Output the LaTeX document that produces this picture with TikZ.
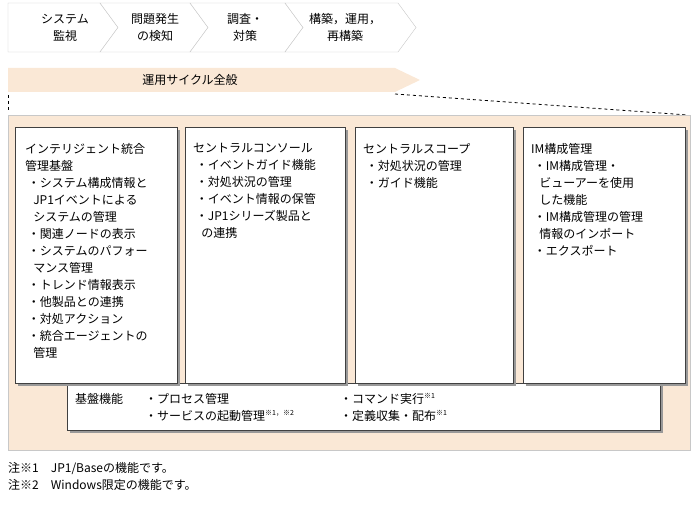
\documentclass[tikz,border=0pt]{standalone}
\usepackage{fontspec}
\setmainfont{Noto Sans CJK JP}
\usetikzlibrary{shapes.misc}
\definecolor{peach}{RGB}{250,232,214}
\definecolor{edge}{RGB}{200,200,200}
\tikzset{
 chev/.style={draw=edge,fill=white},
 txt/.style={font=\fontsize{12}{17}\selectfont,align=left,anchor=north west,inner sep=0pt},
 ctxt/.style={font=\fontsize{12}{17}\selectfont,align=center,inner sep=0pt},
 wbox/.style={draw=black!75,fill=white},
 shadow/.style={fill=black!40}
}
\newcommand{\kome}[1]{\textsuperscript{\fontsize{7}{7}\selectfont ※#1}}
\begin{document}
\begin{tikzpicture}[x=1pt,y=-1pt]
\useasboundingbox (0,0) rectangle (693,505);
% chevrons
\draw[chev] (8,3)--(100,3)--(118,27.5)--(100,52)--(8,52)--cycle;
\draw[chev] (100,3)--(190,3)--(208,27.5)--(190,52)--(100,52)--(118,27.5)--cycle;
\draw[chev] (190,3)--(285,3)--(303,27.5)--(285,52)--(190,52)--(208,27.5)--cycle;
\draw[chev] (285,3)--(398,3)--(416,27.5)--(398,52)--(285,52)--(303,27.5)--cycle;
\node[ctxt] (c1) at (65,27.5) {システム\\監視};
\node[ctxt] (c2) at (155,27.5) {問題発生\\の検知};
\node[ctxt] (c3) at (245,27.5) {調査・\\対策};
\node[ctxt] (c4) at (345,27.5) {構築，運用，\\再構築};
% band
\fill[peach] (8,68)--(395,68)--(420,80)--(395,92)--(8,92)--cycle;
\node[ctxt] (band) at (190,80) {運用サイクル全般};
\draw[dashed,thick] (8,95)--(8,112);
\draw[dashed,thick] (395,94)--(688,115);
% big area
\fill[peach] (8,115) rectangle (690,450);
\draw[edge] (8,115) rectangle (690,450);
% base
\fill[shadow] (70,386) rectangle (663,433);
\draw[wbox] (67,383) rectangle (660,430);
% boxes
\foreach \a/\b in {15/177,185/345,355/513,523/685}{
 \fill[shadow] (\a+3,130) rectangle (\b+3,386);
 \draw[wbox] (\a,127) rectangle (\b,383);
}
\node[txt] (t1) at (25,143) {インテリジェント統合\\管理基盤\\
\ ・システム構成情報と\\\ \ \ JP1イベントによる\\\ \ \ システムの管理\\
\ ・関連ノードの表示\\\ ・システムのパフォー\\\ \ \ マンス管理\\\ ・トレンド情報表示\\
\ ・他製品との連携\\\ ・対処アクション\\\ ・統合エージェントの\\\ \ \ 管理};
\node[txt] (t2) at (193,143) {セントラルコンソール\\\ ・イベントガイド機能\\\ ・対処状況の管理\\\ ・イベント情報の保管\\\ ・JP1シリーズ製品と\\\ \ \ の連携};
\node[txt] (t3) at (363,143) {セントラルスコープ\\\ ・対処状況の管理\\\ ・ガイド機能};
\node[txt] (t4) at (531,143) {IM構成管理\\\ ・IM構成管理・\\\ \ \ ビューアーを使用\\\ \ \ した機能\\\ ・IM構成管理の管理\\\ \ \ 情報のインポート\\\ ・エクスポート};
\node[txt] (b0) at (75,393) {基盤機能};
\node[txt] (b1) at (145,393) {・プロセス管理\\・サービスの起動管理\kome{1，※2}};
\node[txt] (b2) at (340,393) {・コマンド実行\kome{1}\\・定義収集・配布\kome{1}};
\node[txt] (n1) at (8,462) {注※1\quad JP1/Baseの機能です。\\注※2\quad Windows限定の機能です。};
\end{tikzpicture}
\end{document}
